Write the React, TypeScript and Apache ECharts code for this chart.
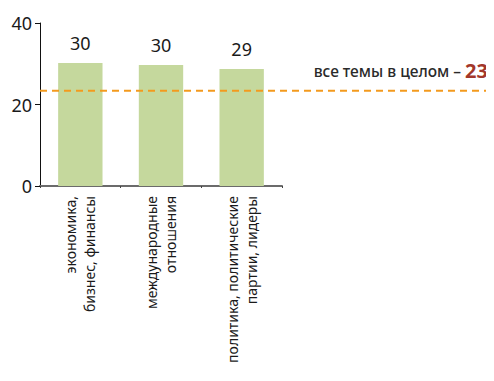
import React, { useEffect, useRef } from "react";
import * as echarts from "echarts";

const categories = ["экономика,\nбизнес, финансы", "международные\nотношения", "политика, политические\nпартии, лидеры"];
const values = [30.2, 29.7, 28.7];
const valueLabels = ["30", "30", "29"];
const averageValue = 23.4;
const averageLabel = "все темы в целом – ";
const averageText = "23";
const yTicks = [0, 20, 40];

export default function App() {
  const ref = useRef<HTMLDivElement>(null);
  useEffect(() => {
    if (!ref.current) return;
    const chart = echarts.init(ref.current, undefined, { renderer: "svg" });
    const font = "'Noto Sans', 'DejaVu Sans', sans-serif";
    chart.setOption({
      animation: false,
      grid: { left: 40, right: 212, top: 23, bottom: 195, containLabel: false },
      xAxis: {
        type: "category",
        data: categories,
        axisLine: { lineStyle: { color: "#6b6b6b", width: 2 } },
        axisTick: { show: true, length: 2, lineStyle: { color: "#444" } },
        axisLabel: {
          rotate: 90,
          interval: 0,
          fontSize: 14,
          fontFamily: font,
          color: "#1a1a1a",
          margin: 10,
          lineHeight: 19,
        },
      },
      yAxis: {
        type: "value",
        min: yTicks[0],
        max: yTicks[yTicks.length - 1],
        interval: 20,
        axisLine: { show: true, lineStyle: { color: "#111", width: 1 } },
        axisTick: { show: true, length: 5, lineStyle: { color: "#111" } },
        splitLine: { show: false },
        axisLabel: { fontSize: 18, fontFamily: font, color: "#1a1a1a", margin: 8 },
      },
      series: [
        {
          type: "bar",
          data: values,
          barWidth: "55%",
          itemStyle: { color: "#c5d89d" },
          label: {
            show: true,
            position: "top",
            distance: 11,
            fontSize: 18,
            fontFamily: font,
            color: "#1a1a1a",
            formatter: (p: any) => valueLabels[p.dataIndex],
          },
        },
      ],
    });
    const y = chart.convertToPixel({ yAxisIndex: 0 }, averageValue) as number;
    chart.setOption({
      graphic: [
        {
          type: "line",
          shape: { x1: 40, y1: y, x2: 494, y2: y },
          style: { stroke: "#f39a1e", lineWidth: 2, lineDash: [7, 5] },
          z: 10,
        },
        {
          type: "text",
          x: 488,
          y: y - 10,
          style: {
            text: averageLabel + "{b|" + averageText + "}",
            align: "right",
            verticalAlign: "bottom",
            fontSize: 15.5,
            fontWeight: 500,
            fontFamily: font,
            fill: "#2a2a2a",
            rich: {
              b: { fontSize: 20, fontWeight: "bold", fill: "#a3372a", fontFamily: font },
            },
          },
        },
      ],
    });
    return () => chart.dispose();
  }, []);
  return <div ref={ref} style={{ width: 494, height: 381, margin: -8 }} />;
}
